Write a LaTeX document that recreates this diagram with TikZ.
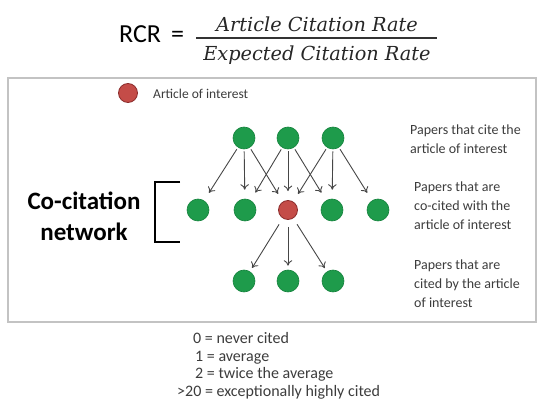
\documentclass[tikz,border=0pt]{standalone}
\usepackage{fontspec}
\setmainfont{Carlito}
\newfontfamily\fracfont{DejaVu Serif}
\usetikzlibrary{arrows.meta}
\definecolor{nodegreen}{RGB}{30,155,75}
\definecolor{nodegreenb}{RGB}{20,130,60}
\definecolor{nodered}{RGB}{196,76,72}
\definecolor{noderedb}{RGB}{140,45,45}
\definecolor{arrowgray}{RGB}{70,70,70}
\definecolor{boxgray}{RGB}{195,195,195}
\definecolor{textgray}{RGB}{60,60,60}
\tikzset{
  paper/.style={circle, fill=nodegreen, draw=nodegreenb, line width=0.6pt, minimum size=22pt, inner sep=0pt},
  focus/.style={circle, fill=nodered, draw=noderedb, line width=0.8pt, minimum size=19pt, inner sep=0pt},
  citearrow/.style={draw=arrowgray, line width=0.9pt, -{To[length=5.5pt,width=8.5pt]}},
  lbl/.style={anchor=west, inner sep=0pt, align=left, text=textgray, font=\fontsize{14}{19}\selectfont},
  scalelbl/.style={anchor=base west, inner sep=0pt, text=textgray, font=\fontsize{16}{20}\selectfont},
  fracpart/.style={inner sep=0pt, text=black!85, font=\fracfont\itshape\fontsize{19.3}{23}\selectfont},
}
\begin{document}
\begin{tikzpicture}[x=1pt, y=-1pt]
\useasboundingbox (0,0) rectangle (539,409);
% title
\node[anchor=base west, inner sep=0pt, font=\fontsize{26}{30}\selectfont] (rcr) at (119,43) {RCR};
\node[anchor=base west, inner sep=0pt, font=\fontsize{26}{30}\selectfont] (eq) at (171,43) {=};
\node[fracpart] (num) at (317,24) {Article Citation Rate};
\node[fracpart] (den) at (317,55) {Expected Citation Rate};
\coordinate (barL) at (196,38);
\coordinate (barR) at (437,38);
\draw[line width=1.2pt, black!80] (barL) -- (barR);
% frame
\draw[boxgray, line width=1.2pt] (8,78) rectangle (536,322);
% legend
\node[focus] (legdot) at (128,93) {};
\node[anchor=west, inner sep=0pt, text=textgray, font=\fontsize{13.5}{15}\selectfont] (legtxt) at (153,94) {Article of interest};
% network nodes
\node[paper] (t1) at (244,138) {};
\node[paper] (t2) at (288,138) {};
\node[paper] (t3) at (333,138) {};
\node[paper] (m1) at (198,210) {};
\node[paper] (m2) at (245,210) {};
\node[focus] (c)  at (288,210) {};
\node[paper] (m4) at (332,210) {};
\node[paper] (m5) at (378,210) {};
\node[paper] (b1) at (244,281) {};
\node[paper] (b2) at (288,281) {};
\node[paper] (b3) at (333,281) {};
% citing arrows
\foreach \s/\e in {t1/m1, t1/m2, t1/c, t2/m2, t2/c, t2/m4, t3/c, t3/m4, t3/m5}
  \draw[citearrow, shorten <=2pt, shorten >=9pt] (\s) -- (\e);
\foreach \e in {b1, b2, b3}
  \draw[citearrow, shorten <=7pt, shorten >=4pt] (c) -- (\e);
% co-citation bracket
\node[align=center, inner sep=0pt, font=\bfseries\fontsize{25}{31}\selectfont] (cocit) at (84,216) {Co-citation\\network};
\coordinate (brTop) at (180,182);
\coordinate (brBot) at (180,242);
\draw[line width=1.8pt, black] (brTop) -- (155,182) -- (155,242) -- (brBot);
% right labels
\node[lbl] (l1) at (410,139) {Papers that cite the\\article of interest};
\node[lbl] (l2) at (414,206) {Papers that are\\co-cited with the\\article of interest};
\node[lbl] (l3) at (414,284) {Papers that are\\cited by the article\\of interest};
% scale
\node[scalelbl] (s0) at (193,344) {0 = never cited};
\node[scalelbl] (s1) at (195,361) {1 = average};
\node[scalelbl] (s2) at (195,378) {2 = twice the average};
\node[scalelbl] (s3) at (177,396) {>20 = exceptionally highly cited};
\end{tikzpicture}
\end{document}
